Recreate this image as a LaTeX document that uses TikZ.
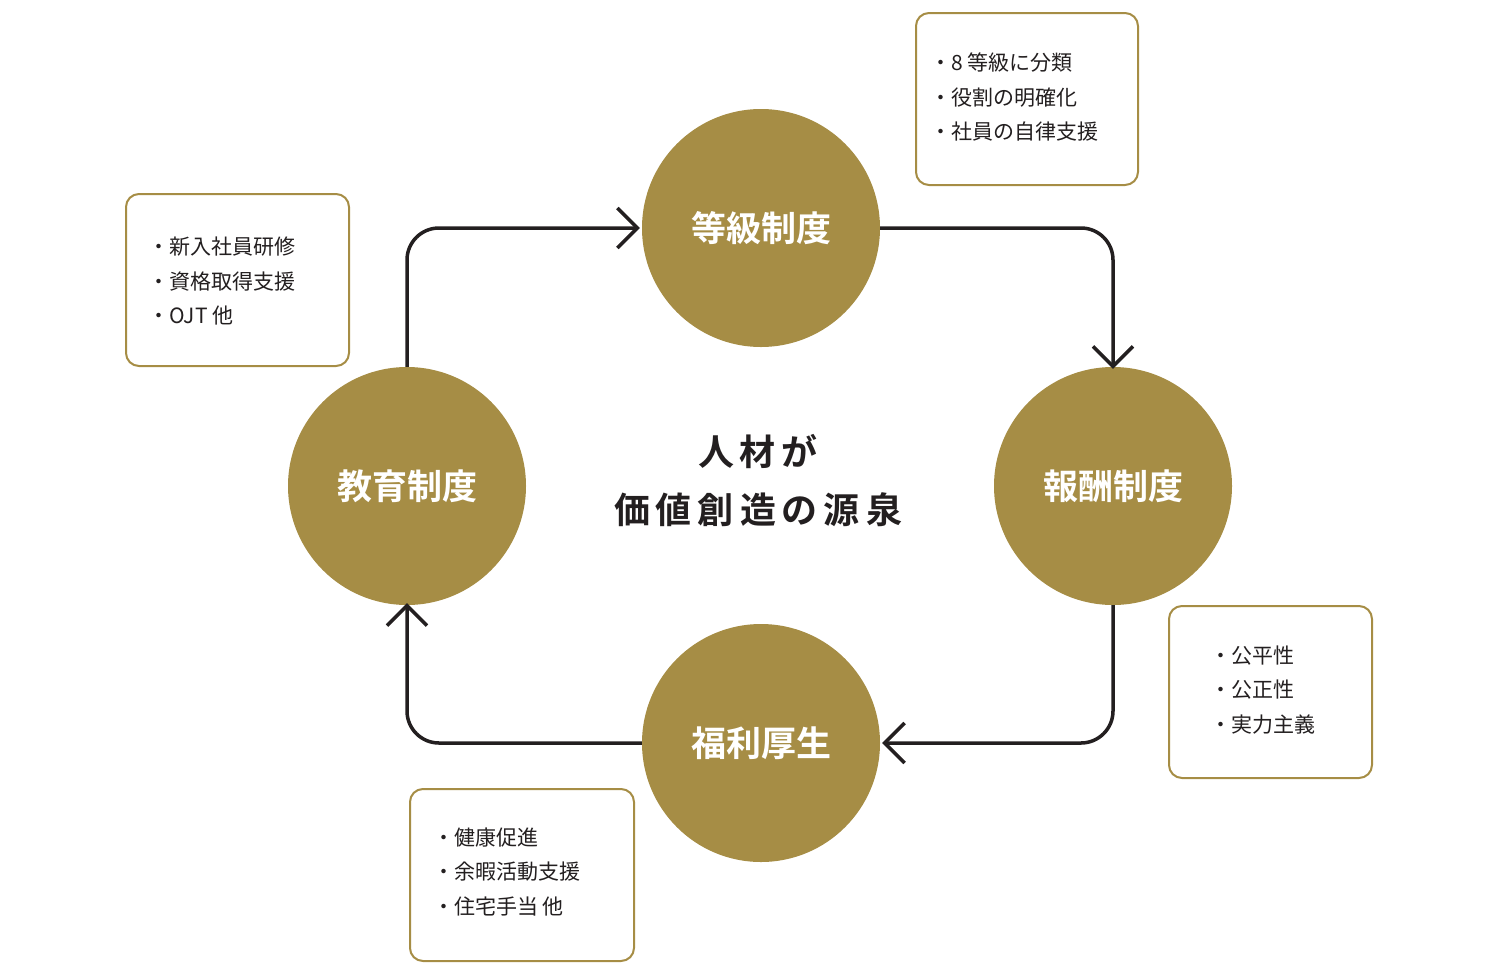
\documentclass[tikz,border=0pt]{standalone}
\usepackage{fontspec}
\setmainfont{Noto Sans CJK JP}
\newfontfamily\cjkb{Noto Sans CJK JP Bold}
\usetikzlibrary{arrows.meta}
\definecolor{gold}{HTML}{A68D45}
\definecolor{ink}{HTML}{231F20}
\begin{document}
\begin{tikzpicture}[x=1pt,y=-1pt,
  circ/.style={circle,fill=gold,minimum size=238pt,inner sep=0pt,text=white,font=\cjkb\fontsize{35}{40}\selectfont},
  infobox/.style={draw=gold,line width=2pt,rounded corners=13pt,fill=white},
  infotext/.style={anchor=west,align=left,font=\fontsize{21}{34.5}\selectfont,text=ink,inner sep=0pt},
  conn/.style={draw=ink,line width=3.5pt,rounded corners=32pt,-{Straight Barb[length=20pt,width=40pt,line width=3.5pt]}}]
\useasboundingbox (0,0) rectangle (1500,975);
\node[circ] (top) at (761,228) {等級制度};
\node[circ] (right) at (1113,486) {報酬制度};
\node[circ] (bottom) at (761,743) {福利厚生};
\node[circ] (left) at (407,486) {教育制度};
\coordinate (c1) at (407,228);
\coordinate (c2) at (1113,228);
\coordinate (c3) at (1113,743);
\coordinate (c4) at (407,743);
\draw[conn] (left.north) -- (c1) -- ([xshift=-2pt]top.west);
\draw[conn] (top.east) -- (c2) -- ([yshift=-2pt]right.north);
\draw[conn] (right.south) -- (c3) -- ([xshift=2pt]bottom.east);
\draw[conn] (bottom.west) -- (c4) -- ([yshift=2pt]left.south);
\node[font=\cjkb\fontsize{36}{58}\selectfont,text=ink,align=center] (center) at (758,481) {人\,材\,が\\価\,値\,創\,造\,の\,源\,泉};
\draw[infobox] (916,13) rectangle (1138,185);
\node[infotext] (t1) at (930,97) {・8 等級に分類\\・役割の明確化\\・社員の自律支援};
\draw[infobox] (126,194) rectangle (349,366);
\node[infotext] (t2) at (148,281) {・新入社員研修\\・資格取得支援\\・OJT 他};
\draw[infobox] (1169,606) rectangle (1372,778);
\node[infotext] (t3) at (1210,690) {・公平性\\・公正性\\・実力主義};
\draw[infobox] (410,789) rectangle (634,961);
\node[infotext] (t4) at (433,872) {・健康促進\\・余暇活動支援\\・住宅手当 他};
\end{tikzpicture}
\end{document}
